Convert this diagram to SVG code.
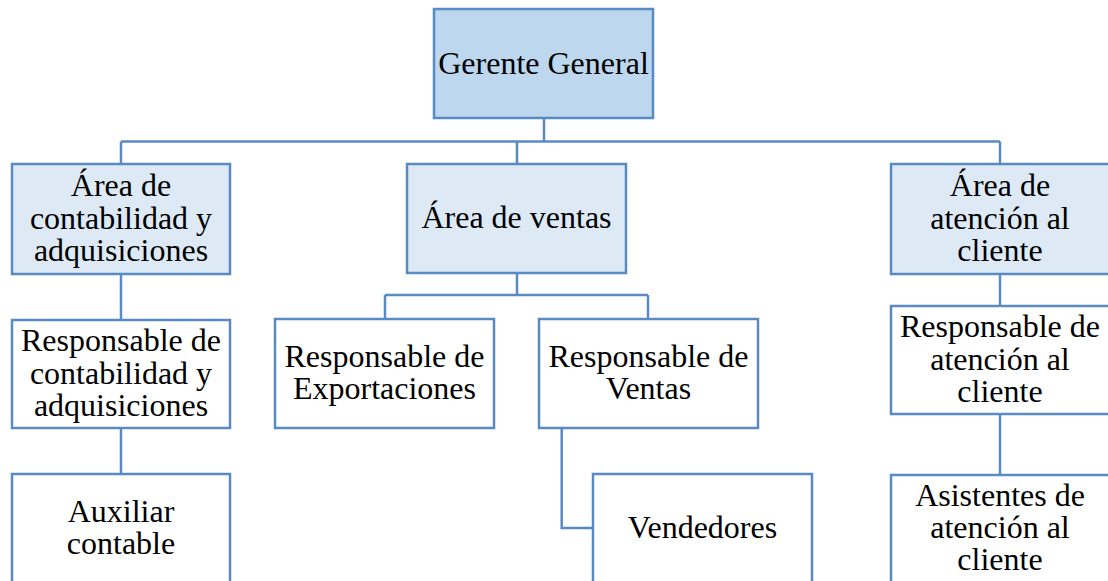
<svg xmlns="http://www.w3.org/2000/svg" width="1108" height="581" viewBox="0 0 1108 581">
<style>
.box{stroke:#5A8AC4;stroke-width:2.5;fill:#FFFFFF}
.top{fill:#BDD7EE}
.l1{fill:#DDEAF6}
.t{font-family:"Liberation Serif","Times New Roman",serif;font-size:32px;fill:#000;text-anchor:middle}
.c{fill:none;stroke:#5A8AC4;stroke-width:2.5}
</style>
<rect width="1108" height="581" fill="#FFFFFF"/>
<g id="connectors">
<path class="c" d="M544,118 V141.5 M121,141.5 H1000 M121,141.5 V164 M517,141.5 V164 M1000,141.5 V164"/>
<path class="c" d="M121,274 V320 M121,428 V474"/>
<path class="c" d="M517,273 V295 M385,295 H648 M385,295 V319 M648,295 V319"/>
<path class="c" d="M561.7,428 V528 H593"/>
<path class="c" d="M1000,274 V306 M1000,414 V475"/>
</g>
<g id="gerente">
<rect class="box top" x="434" y="9" width="219" height="109"/>
<text class="t" x="543.5" y="73.5">Gerente General</text>
</g>
<g id="area-contabilidad">
<rect class="box l1" x="12" y="164" width="218" height="110"/>
<text class="t" x="121" y="196">Área de</text>
<text class="t" x="121" y="228.5">contabilidad y</text>
<text class="t" x="121" y="261">adquisiciones</text>
</g>
<g id="area-ventas">
<rect class="box l1" x="407" y="164" width="219" height="109"/>
<text class="t" x="516.5" y="228">Área de ventas</text>
</g>
<g id="area-atencion">
<rect class="box l1" x="891" y="164" width="219" height="110"/>
<text class="t" x="1000" y="196">Área de</text>
<text class="t" x="1000" y="228.5">atención al</text>
<text class="t" x="1000" y="261">cliente</text>
</g>
<g id="resp-contabilidad">
<rect class="box" x="12" y="320" width="218" height="108"/>
<text class="t" x="121" y="351">Responsable de</text>
<text class="t" x="121" y="383.5">contabilidad y</text>
<text class="t" x="121" y="416">adquisiciones</text>
</g>
<g id="resp-exportaciones">
<rect class="box" x="275" y="319" width="219" height="109"/>
<text class="t" x="384.5" y="366.7">Responsable de</text>
<text class="t" x="384.5" y="399.2">Exportaciones</text>
</g>
<g id="resp-ventas">
<rect class="box" x="539" y="319" width="219" height="109"/>
<text class="t" x="648.5" y="366.7">Responsable de</text>
<text class="t" x="648.5" y="399.2">Ventas</text>
</g>
<g id="resp-atencion">
<rect class="box" x="891" y="306" width="219" height="108"/>
<text class="t" x="1000" y="337">Responsable de</text>
<text class="t" x="1000" y="369.5">atención al</text>
<text class="t" x="1000" y="402">cliente</text>
</g>
<g id="auxiliar">
<rect class="box" x="12" y="474" width="218" height="109"/>
<text class="t" x="121" y="521.7">Auxiliar</text>
<text class="t" x="121" y="554">contable</text>
</g>
<g id="vendedores">
<rect class="box" x="593" y="474" width="219" height="109"/>
<text class="t" x="702.5" y="538.3">Vendedores</text>
</g>
<g id="asistentes">
<rect class="box" x="891" y="475" width="219" height="108"/>
<text class="t" x="1000" y="506">Asistentes de</text>
<text class="t" x="1000" y="538">atención al</text>
<text class="t" x="1000" y="570">cliente</text>
</g>
</svg>
